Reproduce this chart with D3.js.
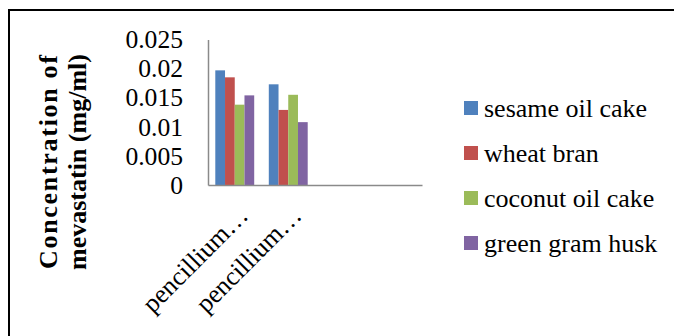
<!DOCTYPE html>
<html>
<head>
<meta charset="utf-8">
<script src="https://cdn.jsdelivr.net/npm/d3@7"></script>
<style>
  html, body { margin: 0; padding: 0; background: #fff; }
  svg { display: block; }
</style>
</head>
<body>
<svg id="chart" width="674" height="336"></svg>
<script>
// Mevastatin yield by substrate for two Penicillium strains
const categories = ["pencillium…", "pencillium…", "", ""];
const seriesNames = ["sesame oil cake", "wheat bran", "coconut oil cake", "green gram husk"];
const seriesColors = ["#4F81BD", "#C0504D", "#9BBB59", "#8064A2"];
const sesameOilCake = [0.0197, 0.0173];
const wheatBran = [0.0185, 0.0129];
const coconutOilCake = [0.0138, 0.0155];
const greenGramHusk = [0.0154, 0.0108];
const yTickValues = [0, 0.005, 0.01, 0.015, 0.02, 0.025];
const yTickLabels = ["0", "0.005", "0.01", "0.015", "0.02", "0.025"];

const seriesValues = [sesameOilCake, wheatBran, coconutOilCake, greenGramHusk];
const FONT = "Liberation Serif";

const svg = d3.select("#chart");

// outer frame
svg.append("rect")
  .attr("x", 9).attr("y", 10)
  .attr("width", 700).attr("height", 360)
  .attr("fill", "none").attr("stroke", "#000").attr("stroke-width", 2);

const plot = { left: 208, right: 422, top: 39.5, bottom: 185 };

const x0 = d3.scaleBand()
  .domain(d3.range(categories.length))
  .range([plot.left, plot.right])
  .paddingInner(1.5 / 5.5)
  .paddingOuter(0.75 / 5.5);

const x1 = d3.scaleBand()
  .domain(d3.range(seriesNames.length))
  .range([0, x0.bandwidth()]);

const y = d3.scaleLinear().domain([0, 0.025]).range([plot.bottom, plot.top]);

// bars
const groups = svg.append("g").selectAll("g")
  .data(seriesValues)
  .join("g")
  .attr("fill", (d, i) => seriesColors[i]);

groups.each(function (vals, si) {
  d3.select(this).selectAll("rect")
    .data(vals)
    .join("rect")
    .attr("x", (v, ci) => x0(ci) + x1(si))
    .attr("y", v => y(v))
    .attr("width", x1.bandwidth())
    .attr("height", v => y(0) - y(v));
});

// y axis
const yAxis = d3.axisLeft(y)
  .tickValues(yTickValues)
  .tickFormat((d, i) => yTickLabels[i])
  .tickSize(0)
  .tickPadding(25);

const yg = svg.append("g")
  .attr("transform", `translate(${plot.left},0)`)
  .call(yAxis)
  .attr("font-family", FONT);
yg.select(".domain").attr("stroke", "#8a8a8a").attr("stroke-width", 1.5);
yg.selectAll(".tick text")
  .style("font-family", FONT)
  .attr("font-size", 25.6)
  .attr("fill", "#000")
  .attr("dy", "0.32em");

// x axis
const xAxis = d3.axisBottom(x0)
  .tickFormat(i => categories[i])
  .tickSize(0)
  .tickPadding(0);

const xg = svg.append("g")
  .attr("transform", `translate(0,${plot.bottom})`)
  .call(xAxis)
  .attr("font-family", FONT);
xg.select(".domain").attr("stroke", "#8a8a8a").attr("stroke-width", 1.5);
xg.selectAll(".tick text")
  .style("font-family", FONT)
  .attr("font-size", 26)
  .attr("fill", "#000")
  .attr("text-anchor", "end")
  .attr("dy", 0)
  .attr("transform", "translate(15,32) rotate(-45)");

// y axis title
const title = svg.append("text")
  .attr("transform", "translate(0,162) rotate(-90)")
  .attr("text-anchor", "middle")
  .style("font-family", FONT)
  .style("font-weight", "bold")
  .attr("font-size", 26)
  .attr("fill", "#000");
title.append("tspan").attr("x", 0).attr("y", 57)
  .attr("textLength", 214).attr("lengthAdjust", "spacing")
  .text("Concentration of");
title.append("tspan").attr("x", 0).attr("y", 86).text("mevastatin (mg/ml)");

// legend
const legend = svg.append("g");
const rows = legend.selectAll("g")
  .data(seriesNames)
  .join("g")
  .attr("transform", (d, i) => `translate(464,${101 + i * 45})`);
rows.append("rect")
  .attr("width", 14).attr("height", 14)
  .attr("fill", (d, i) => seriesColors[i]);
rows.append("text")
  .attr("x", 20).attr("y", 15.5)
  .style("font-family", FONT)
  .attr("font-size", 26)
  .attr("fill", "#000")
  .text(d => d);
</script>
</body>
</html>
